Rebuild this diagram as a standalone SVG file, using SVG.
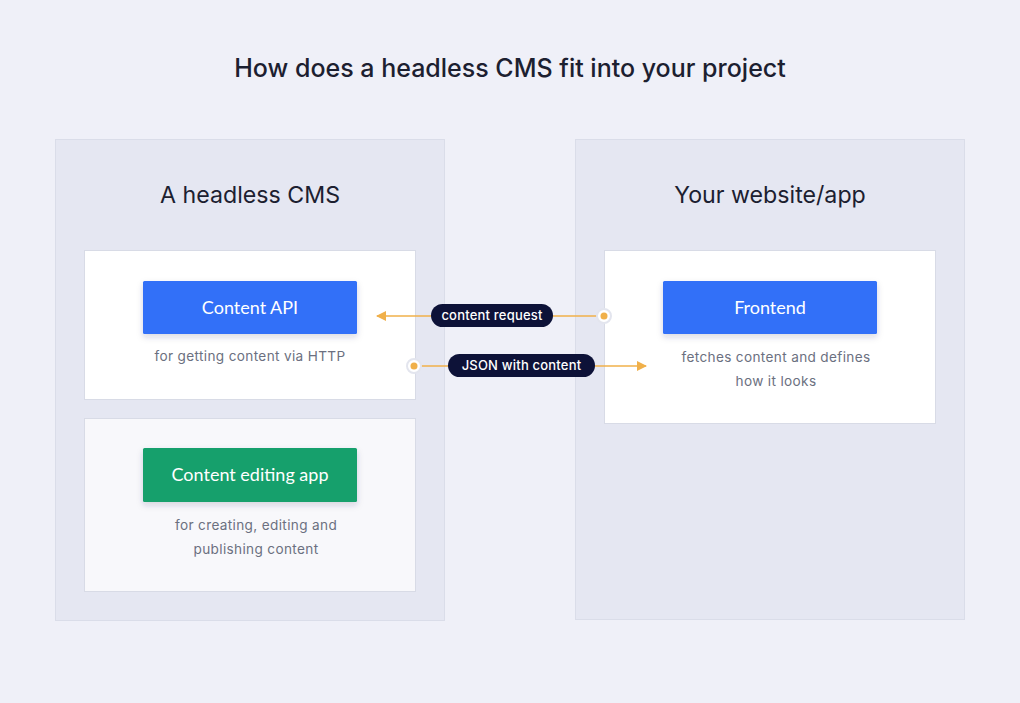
<svg xmlns="http://www.w3.org/2000/svg" width="1020" height="703" viewBox="0 0 1020 703">
<defs>
<style>
.panel{fill:#e5e7f2;stroke:#dadde9;stroke-width:1}
.card{fill:#ffffff;stroke:#d8dbe6;stroke-width:1}
.card2{fill:#f8f8fb;stroke:#d8dbe6;stroke-width:1}
.btn-blue{fill:#3170f8}
.btn-green{fill:#18a06c}
.title{font-family:Inter,"Noto Sans",sans-serif;font-size:25px;font-weight:500;fill:#1c2030;text-anchor:middle}
.head{font-family:Inter,"Noto Sans",sans-serif;font-size:23.2px;fill:#1c2030;text-anchor:middle}
.btxt{font-family:Lato,"Open Sans",sans-serif;font-size:18px;fill:#ffffff;text-anchor:middle}
.sub{font-family:Inter,"Noto Sans",sans-serif;font-size:13.6px;letter-spacing:0.35px;fill:#6b7080;text-anchor:middle}
.line{stroke:#f0b04a;stroke-width:1.5;fill:none}
.pill{fill:#0d1238}
.ptxt{font-family:Inter,"Noto Sans",sans-serif;font-size:13px;font-weight:500;letter-spacing:0.2px;fill:#ffffff;text-anchor:middle}
.dot-ring{fill:#ffffff;stroke:#e3e5ee;stroke-width:2}
.dot{fill:#f0b04a}
</style>
<filter id="sh" x="-10%" y="-20%" width="120%" height="160%">
<feDropShadow dx="0" dy="3" stdDeviation="3" flood-color="#1c2a60" flood-opacity="0.18"/>
</filter>
<marker id="arr" viewBox="0 0 10 10" refX="9" refY="5" markerWidth="10" markerHeight="10" markerUnits="userSpaceOnUse" orient="auto">
<path d="M0,0 L10,5 L0,10 Z" fill="#f0b04a"/>
</marker>
</defs>
<rect width="1020" height="703" fill="#eff0f8"/>
<text class="title" x="510" y="77">How does a headless CMS fit into your project</text>

<g id="cms-panel">
<rect class="panel" x="55.5" y="139.5" width="389" height="481"/>
<text class="head" x="250" y="203">A headless CMS</text>
</g>
<g id="site-panel">
<rect class="panel" x="575.5" y="139.5" width="389" height="480"/>
<text class="head" x="770" y="203">Your website/app</text>
</g>

<g id="content-api">
<rect class="card" x="84.5" y="250.5" width="331" height="149"/>
<rect class="btn-blue" x="143" y="281" width="214" height="53" rx="1.5" filter="url(#sh)"/>
<text class="btxt" x="250" y="314">Content API</text>
<text class="sub" x="250" y="361">for getting content via HTTP</text>
</g>

<g id="content-editing-app">
<rect class="card2" x="84.5" y="418.5" width="331" height="173"/>
<rect class="btn-green" x="143" y="448" width="214" height="54" rx="1.5" filter="url(#sh)"/>
<text class="btxt" x="250" y="481">Content editing app</text>
<text class="sub" x="256" y="530">for creating, editing and</text>
<text class="sub" x="256" y="554">publishing content</text>
</g>

<g id="frontend">
<rect class="card" x="604.5" y="250.5" width="331" height="173"/>
<rect class="btn-blue" x="663" y="281" width="214" height="53" rx="1.5" filter="url(#sh)"/>
<text class="btxt" x="770" y="314">Frontend</text>
<text class="sub" x="776" y="362">fetches content and defines</text>
<text class="sub" x="776" y="386">how it looks</text>
</g>

<g id="connectors">
<line class="line" x1="597" y1="316" x2="377" y2="316" marker-end="url(#arr)"/>
<circle class="dot-ring" cx="604" cy="316" r="7"/>
<circle class="dot" cx="604" cy="316" r="3.5"/>
<rect class="pill" x="431" y="304" width="122" height="23" rx="11.5"/>
<text class="ptxt" x="492" y="320">content request</text>

<line class="line" x1="421" y1="366" x2="646" y2="366" marker-end="url(#arr)"/>
<circle class="dot-ring" cx="414" cy="366" r="7"/>
<circle class="dot" cx="414" cy="366" r="3.5"/>
<rect class="pill" x="448" y="354" width="147" height="23" rx="11.5"/>
<text class="ptxt" x="521.5" y="370">JSON with content</text>
</g>
</svg>
